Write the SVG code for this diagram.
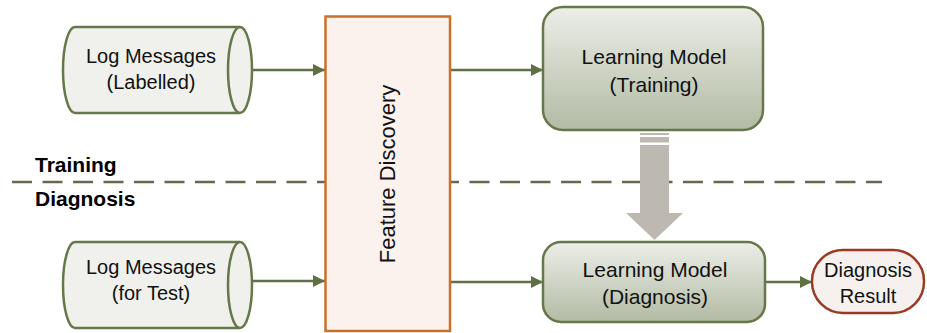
<svg xmlns="http://www.w3.org/2000/svg" width="927" height="333" viewBox="0 0 927 333">
  <defs>
    <linearGradient id="modelFill" x1="0" y1="0" x2="0" y2="1">
      <stop offset="0" stop-color="#eceee8"/>
      <stop offset="1" stop-color="#b2bba4"/>
    </linearGradient>
    <marker id="arrow" markerWidth="12" markerHeight="12" viewBox="0 0 12 12" refX="12" refY="6" orient="auto" markerUnits="userSpaceOnUse">
      <path d="M0,0 L12,6 L0,12 Z" fill="#5f7042"/>
    </marker>
    <style>
      .txt { font-family: "Liberation Sans", Arial, sans-serif; font-size: 20px; fill: #111; text-anchor: middle; }
      .big { font-size: 21px; }
      .lbl { font-family: "Liberation Sans", Arial, sans-serif; font-size: 21px; font-weight: bold; fill: #000; }
      .cyl { fill: #f0f1ec; stroke: #66784a; stroke-width: 2.5; }
      .model { fill: url(#modelFill); stroke: #66784a; stroke-width: 2.5; }
      .conn { stroke: #5f7042; stroke-width: 2.5; fill: none; marker-end: url(#arrow); }
    </style>
  </defs>

  <!-- phase separator -->
  <line x1="12" y1="182" x2="882" y2="182" stroke="#6b6650" stroke-width="2.5" stroke-dasharray="20 10.5"/>
  <text class="lbl" x="35" y="172">Training</text>
  <text class="lbl" x="35" y="206">Diagnosis</text>

  <!-- connectors -->
  <g id="connectors">
    <line class="conn" x1="252" y1="70" x2="325" y2="70"/>
    <line class="conn" x1="450" y1="70" x2="543" y2="70"/>
    <line class="conn" x1="252" y1="281" x2="325" y2="281"/>
    <line class="conn" x1="450" y1="282" x2="543" y2="282"/>
    <line class="conn" x1="765" y1="282" x2="812" y2="282"/>
    <!-- model hand-over arrow -->
    <g fill="#bdb9b0">
      <rect x="640" y="133" width="29" height="2"/>
      <rect x="640" y="137" width="29" height="5.5"/>
      <path d="M640,145 L669,145 L669,213 L683,213 L654.5,240 L626,213 L640,213 Z"/>
    </g>
  </g>

  <g id="log-labelled">
    <path class="cyl" d="M75,27 L240,27 A12,43 0 0 1 240,113 L75,113 A12,43 0 0 1 75,27 Z"/>
    <path class="cyl" d="M240,27 A12,43 0 0 0 240,113" fill="none"/>
    <text class="txt" x="151" y="63">Log Messages</text>
    <text class="txt" x="151" y="89">(Labelled)</text>
  </g>

  <g id="log-test">
    <path class="cyl" d="M75,242 L240,242 A12,43 0 0 1 240,328 L75,328 A12,43 0 0 1 75,242 Z"/>
    <path class="cyl" d="M240,242 A12,43 0 0 0 240,328" fill="none"/>
    <text class="txt" x="151" y="274">Log Messages</text>
    <text class="txt" x="151" y="300">(for Test)</text>
  </g>

  <g id="feature-discovery">
    <rect x="325.5" y="16.5" width="124.5" height="314.5" fill="#fbf2ee" stroke="#c8712a" stroke-width="2.5"/>
    <text class="txt" style="font-size:22px" transform="translate(395,174) rotate(-90)">Feature Discovery</text>
  </g>

  <g id="model-training">
    <rect class="model" x="543" y="7" width="220" height="123" rx="20"/>
    <text class="txt big" x="654" y="64">Learning Model</text>
    <text class="txt big" x="654" y="92">(Training)</text>
  </g>

  <g id="model-diagnosis">
    <rect class="model" x="543" y="242" width="222" height="80" rx="18"/>
    <text class="txt big" x="655" y="277">Learning Model</text>
    <text class="txt big" x="655" y="304">(Diagnosis)</text>
  </g>

  <g id="diagnosis-result">
    <rect x="812" y="250" width="112" height="63" rx="31" fill="#f6f1ef" stroke="#9b3a22" stroke-width="2.5"/>
    <text class="txt" x="868" y="277">Diagnosis</text>
    <text class="txt" x="868" y="303">Result</text>
  </g>
</svg>
